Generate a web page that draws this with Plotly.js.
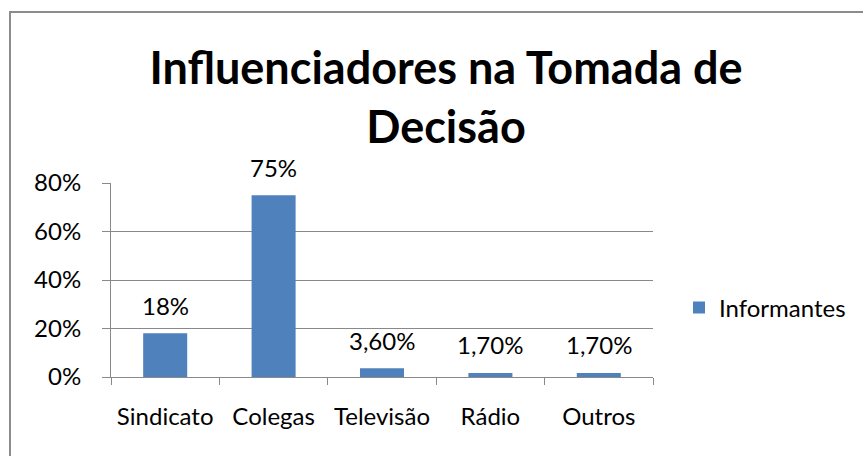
<!DOCTYPE html>
<html>
<head>
<meta charset="utf-8">
<script src="https://cdn.plot.ly/plotly-3.0.1.min.js"></script>
<style>html,body{margin:0;padding:0;background:#fff;}#chart{width:863px;height:456px;}</style>
</head>
<body>
<div id="chart"></div>
<script>
const categories = ["Sindicato", "Colegas", "Televisão", "Rádio", "Outros"];
const values = [0.18, 0.75, 0.036, 0.017, 0.017];
const valueLabels = ["18%", "75%", "3,60%", "1,70%", "1,70%"];
const seriesName = "Informantes";
const yTickVals = [0, 0.2, 0.4, 0.6, 0.8];
const yTickText = ["0%", "20%", "40%", "60%", "80%"];

const FONT = "Lato, 'Open Sans', sans-serif";
const GRAY = "#898989";

const trace = {
  type: "bar",
  x: categories,
  y: values,
  name: seriesName,
  marker: {color: "#4F81BD"},
  showlegend: true,
  hoverinfo: "none"
};

const annotations = categories.map((c, i) => ({
  x: c, y: values[i], xref: "x", yref: "y",
  text: valueLabels[i], showarrow: false,
  yshift: 28, font: {family: FONT, size: 24, color: "#000"}
}));

const PH = 194, PW = 542, PL = 111, PB = 377;
const px2x = p => (p - PL) / PW;
const py2y = p => (PB - p) / PH;

const layout = {
  width: 863, height: 456,
  margin: {l: 111, r: 210, t: 183, b: 79, pad: 0},
  paper_bgcolor: "#fff", plot_bgcolor: "#fff",
  font: {family: FONT, size: 24, color: "#000"},
  title: {
    text: "Influenciadores na Tomada de<br>Decisão",
    font: {family: FONT, size: 45, color: "#000", weight: "bold"},
    xref: "container", x: 446/863, xanchor: "center",
    yref: "container", y: 1 - 84/456, yanchor: "top"
  },
  bargap: 0.594,
  xaxis: {
    type: "category",
    showline: true, linecolor: GRAY, linewidth: 1,
    ticks: "outside", tickson: "boundaries", ticklen: 7, tickcolor: GRAY, tickwidth: 1,
    showgrid: false, zeroline: false,
    ticklabelstandoff: 18,
    tickfont: {family: FONT, size: 24, color: "#000"}
  },
  yaxis: {
    range: [0, 0.8],
    tickvals: yTickVals, ticktext: yTickText,
    showline: true, linecolor: GRAY, linewidth: 1,
    ticks: "outside", ticklen: 8, tickcolor: GRAY, tickwidth: 1,
    showgrid: true, gridcolor: GRAY, gridwidth: 1,
    zeroline: false,
    ticklabelstandoff: 16,
    tickfont: {family: FONT, size: 24, color: "#000"}
  },
  legend: {
    xref: "container", x: 679/863, xanchor: "left",
    yref: "container", y: 1 - 308/456, yanchor: "middle",
    font: {family: FONT, size: 24, color: "#000"},
    bgcolor: "rgba(0,0,0,0)"
  },
  annotations: annotations,
  shapes: [
    {type: "line", xref: "paper", yref: "paper",
     x0: px2x(10), x1: px2x(10), y0: py2y(470), y1: py2y(11),
     line: {color: "#8c8c8c", width: 2}},
    {type: "line", xref: "paper", yref: "paper",
     x0: px2x(9), x1: px2x(880), y0: py2y(12), y1: py2y(12),
     line: {color: "#8c8c8c", width: 2}}
  ]
};

Plotly.newPlot("chart", [trace], layout, {staticPlot: true, displayModeBar: false});
</script>
</body>
</html>
